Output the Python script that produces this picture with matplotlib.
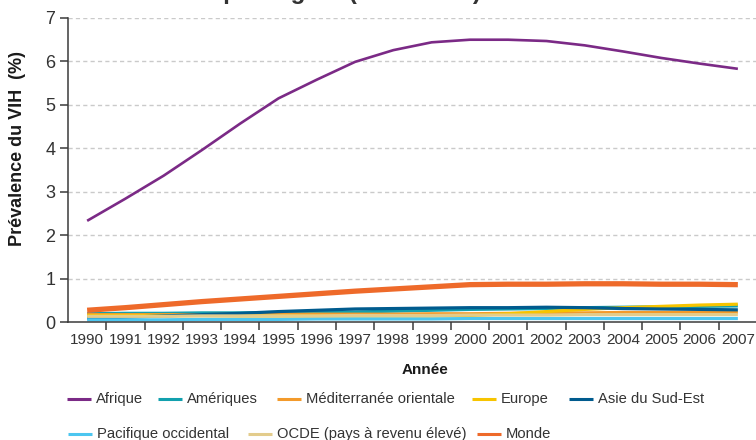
import matplotlib
matplotlib.use('Agg')
import matplotlib.pyplot as plt
from matplotlib.lines import Line2D

plt.rcParams['font.family'] = ['Liberation Sans', 'DejaVu Sans']

years = [str(y) for y in range(1990, 2008)]

afrique = [2.33, 2.84, 3.37, 3.96, 4.57, 5.15, 5.58, 5.99, 6.26, 6.44,
           6.50, 6.50, 6.47, 6.37, 6.23, 6.08, 5.95, 5.83]
ameriques = [0.19, 0.20, 0.20, 0.21, 0.21, 0.22, 0.22, 0.23, 0.25, 0.27,
             0.29, 0.30, 0.31, 0.33, 0.34, 0.35, 0.36, 0.37]
mediterranee = [0.17, 0.17, 0.17, 0.17, 0.18, 0.18, 0.18, 0.18, 0.18, 0.19,
                0.19, 0.20, 0.21, 0.21, 0.22, 0.22, 0.22, 0.22]
europe = [0.15, 0.15, 0.15, 0.15, 0.14, 0.14, 0.14, 0.14, 0.14, 0.14,
          0.15, 0.19, 0.24, 0.29, 0.33, 0.36, 0.39, 0.41]
asie_se = [0.08, 0.11, 0.14, 0.17, 0.20, 0.24, 0.27, 0.30, 0.31, 0.32,
           0.33, 0.33, 0.34, 0.33, 0.31, 0.30, 0.29, 0.28]
pacifique = [0.05, 0.05, 0.05, 0.06, 0.06, 0.06, 0.07, 0.07, 0.07, 0.07,
             0.08, 0.08, 0.08, 0.08, 0.08, 0.08, 0.08, 0.08]
ocde = [0.13, 0.13, 0.13, 0.14, 0.14, 0.14, 0.14, 0.15, 0.15, 0.15,
        0.16, 0.16, 0.16, 0.17, 0.17, 0.17, 0.17, 0.17]
monde = [0.27, 0.33, 0.40, 0.47, 0.53, 0.59, 0.65, 0.71, 0.76, 0.81,
         0.86, 0.87, 0.87, 0.88, 0.88, 0.87, 0.87, 0.86]

series = [
    ('Afrique', afrique, '#7b2a86', 1.9),
    ('Amériques', ameriques, '#12a0ae', 2.3),
    ('Méditerranée orientale', mediterranee, '#f39a2b', 2.3),
    ('Europe', europe, '#f7c400', 2.3),
    ('Asie du Sud-Est', asie_se, '#005b8e', 2.3),
    ('Pacifique occidental', pacifique, '#4cc6f0', 2.3),
    ('OCDE (pays à revenu élevé)', ocde, '#e3cc8c', 2.3),
    ('Monde', monde, '#ee6a2a', 3.8),
]

fig = plt.figure(figsize=(7.56, 4.40), dpi=100)
ax = fig.add_axes([68/756, 118/440, 689/756, 304/440])

x = list(range(len(years)))
for name, vals, col, lw in series:
    ax.plot(x, vals, color=col, lw=lw, solid_capstyle='butt', solid_joinstyle='round')

ax.set_xlim(-0.5, 17.5)
ax.set_ylim(0, 7)
ax.set_yticks(range(0, 8))
ax.set_xticks(x)
ax.set_xticklabels(years)
ax.set_xticks([k + 0.5 for k in range(17)], minor=True)

for yv in range(1, 8):
    ax.axhline(yv, color='#cacaca', lw=1, ls=(0, (3, 2.3)), zorder=0)

axcol = '#3a3a3a'
for s in ['top', 'right']:
    ax.spines[s].set_visible(False)
for s in ['left', 'bottom']:
    ax.spines[s].set_color(axcol)
    ax.spines[s].set_linewidth(1.1)

ax.tick_params(axis='y', length=6, width=1.1, color=axcol, pad=3, labelsize=13, labelcolor='#333333')
ax.tick_params(axis='x', which='major', length=0, pad=8, labelsize=11, labelcolor='#333333')
ax.tick_params(axis='x', which='minor', length=6, width=1.1, color=axcol)

fig.text(17.5/756, 1 - 148/440, 'Prévalence du VIH  (%)', rotation=90, ha='center', va='center',
         fontsize=13, fontweight='bold', color='#1a1a1a')
fig.text(425/756, 1 - 370/440, 'Année', ha='center', va='center',
         fontsize=11, fontweight='bold', color='#1a1a1a')

# title mostly off the top edge
fig.text(329/756, 1 - 3.5/440, 'Tendances de la prévalence du\nVIH par région (1990-2007)',
         ha='center', va='bottom', fontsize=17.5, fontweight='bold', color='#333333')

# legend in two flowing rows
legend_pos = [
    (67, 399), (158, 399), (277, 399), (472, 399), (569, 399),
    (68, 434), (248, 434), (477, 434),
]
for (name, vals, col, lw), (lx, ly) in zip(series, legend_pos):
    yf = 1 - ly / 440
    fig.add_artist(Line2D([lx/756, (lx + 24)/756], [yf, yf], color=col, lw=2.2,
                          solid_capstyle='butt', transform=fig.transFigure))
    fig.text((lx + 29)/756, yf, name, ha='left', va='center', fontsize=10.6, color='#333333')

fig.savefig('out.png', dpi=100)
